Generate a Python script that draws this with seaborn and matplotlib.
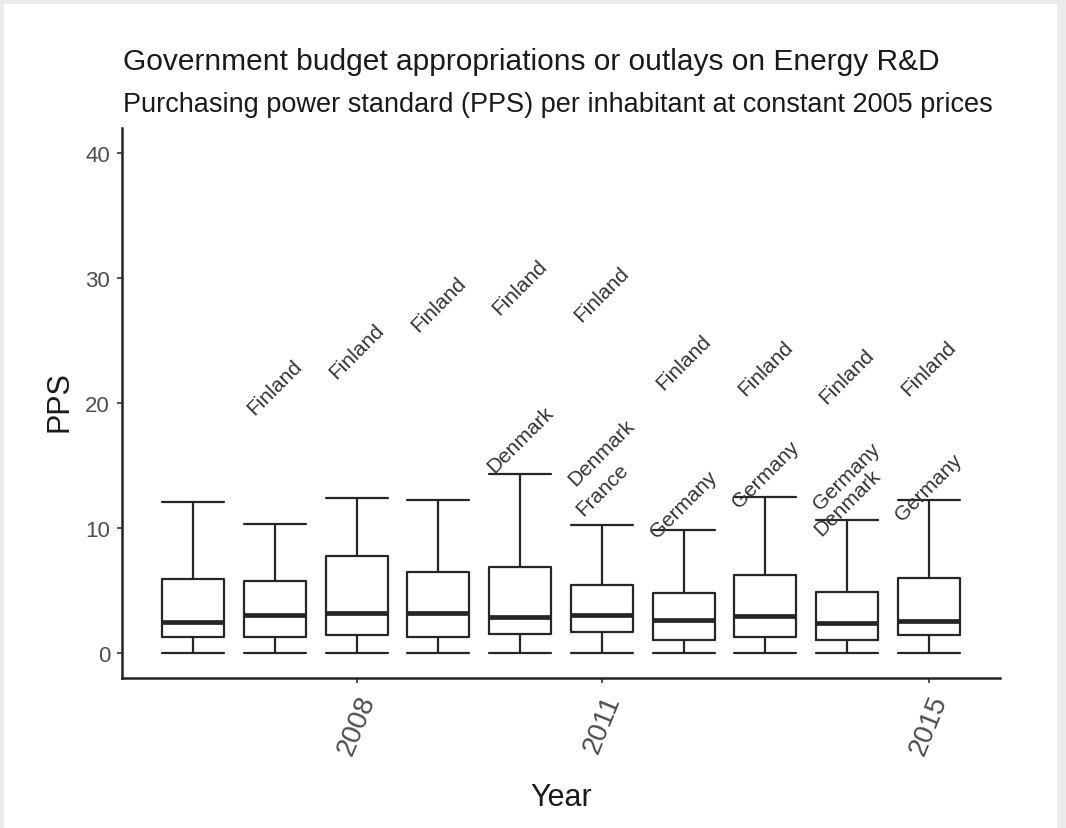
import matplotlib
matplotlib.use("Agg")
import pandas as pd
import matplotlib.pyplot as plt
import seaborn as sns
from matplotlib.patches import Rectangle

# five-number summaries (PPS per inhabitant)
years = [2006, 2007, 2008, 2009, 2010, 2011, 2012, 2013, 2014, 2015]
whisker_low = [0, 0, 0, 0, 0, 0, 0, 0, 0, 0]
box_low = [1.28, 1.28, 1.44, 1.28, 1.52, 1.68, 1.04, 1.28, 1.04, 1.44]
medians = [2.48, 3.04, 3.2, 3.2, 2.88, 3.04, 2.64, 2.96, 2.4, 2.56]
box_high = [5.92, 5.76, 7.76, 6.48, 6.88, 5.44, 4.8, 6.24, 4.88, 6.0]
whisker_high = [12.08, 10.32, 12.4, 12.24, 14.32, 10.24, 9.84, 12.48, 10.64, 12.24]

# outlier countries shown as labels
out_years = [2007, 2008, 2009, 2010, 2011, 2012, 2013, 2014, 2015,
             2010, 2011, 2011, 2012, 2013, 2014, 2014, 2015]
out_values = [21.3, 24.2, 27.9, 29.3, 28.7, 23.3, 22.8, 22.2, 22.8,
              17.1, 16.1, 13.1, 11.9, 14.3, 14.2, 12.1, 13.3]
out_names = ["Finland"] * 9 + ["Denmark", "Denmark", "France", "Germany",
                                "Germany", "Germany", "Denmark", "Germany"]

rows = []
for i, yr in enumerate(years):
    for v in [whisker_low[i], box_low[i], medians[i], box_high[i], whisker_high[i]]:
        rows.append({"Year": yr, "PPS": v})
df = pd.DataFrame(rows)

sns.set_theme(style="white")
plt.rcParams["font.family"] = ["Liberation Sans", "DejaVu Sans"]

fig = plt.figure(figsize=(10.66, 8.29), dpi=100, facecolor="#ebebeb")
fig.patches.append(Rectangle((4 / 1066, 0), 1053 / 1066, 824 / 829,
                             transform=fig.transFigure, facecolor="white",
                             edgecolor="none", zorder=-10))
ax = fig.add_axes([0.11445, 0.18094, 0.82364, 0.66345])
ax.set_facecolor("white")
ax.patch.set_alpha(0)

line_col = "#262626"
sns.boxplot(data=df, x="Year", y="PPS", native_scale=True, whis=(0, 100),
            width=0.76, fill=False, color=line_col, linewidth=1.6,
            capwidths=0.76, ax=ax,
            medianprops=dict(color=line_col, linewidth=3.4))

for yr, v, name in zip(out_years, out_values, out_names):
    ax.text(yr, v, name, rotation=45, ha="center", va="center",
            rotation_mode="anchor", fontsize=15, color="#333333")

ax.set_xlim(2005.13, 2015.87)
ax.set_ylim(-2, 42)
ax.set_xticks([2008, 2011, 2015])
ax.set_xticklabels(["2008", "2011", "2015"], rotation=68, ha="center",
                   va="top", fontsize=20, color="#4d4d4d")
ax.set_yticks([0, 10, 20, 30, 40])
ax.set_yticklabels(["0", "10", "20", "30", "40"], fontsize=16, color="#4d4d4d")
ax.tick_params(axis="both", direction="out", length=3.6, width=1.2,
               color="#333333", left=True, bottom=True)
ax.tick_params(axis="y", pad=5)
ax.tick_params(axis="x", pad=6)
ax.set_xlabel("")
ax.set_ylabel("")

for side in ["top", "right"]:
    ax.spines[side].set_visible(False)
for side in ["left", "bottom"]:
    ax.spines[side].set_color("#222222")
    ax.spines[side].set_linewidth(1.8)

fig.text(123 / 1066, 1 - 62 / 829,
         "Government budget appropriations or outlays on Energy R&D",
         ha="left", va="center", fontsize=21.5, color="#1a1a1a")
fig.text(123 / 1066, 1 - 105 / 829,
         "Purchasing power standard (PPS) per inhabitant at constant 2005 prices",
         ha="left", va="center", fontsize=19.5, color="#1a1a1a")
fig.text(60 / 1066, 1 - 402 / 829, "PPS", rotation=90, ha="center",
         va="center", fontsize=22, color="#1a1a1a")
fig.text(561 / 1066, 1 - 798 / 829, "Year", ha="center", va="center",
         fontsize=22, color="#1a1a1a")

fig.savefig("out.png", dpi=100, facecolor=fig.get_facecolor())
